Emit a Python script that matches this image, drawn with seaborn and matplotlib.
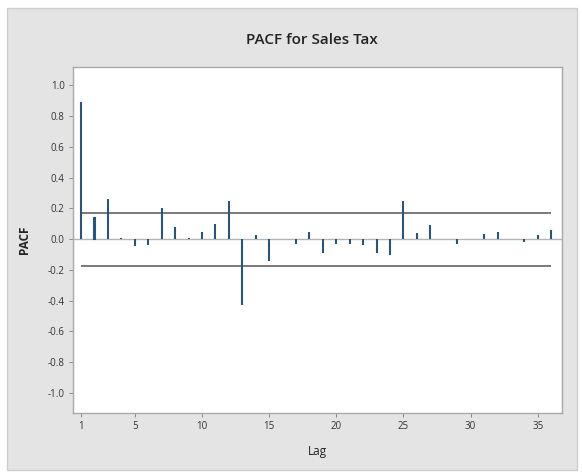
import numpy as np
import pandas as pd
import matplotlib
matplotlib.use("Agg")
import matplotlib.pyplot as plt
from matplotlib.patches import Rectangle
import seaborn as sns

# Partial autocorrelations of the sales tax series, lags 1-36
lags = list(range(1, 37))
pacf = [0.89, 0.14, 0.26, 0.005, -0.045, -0.035, 0.20, 0.08, 0.005, 0.05,
        0.10, 0.25, -0.43, 0.03, -0.14, 0.0, -0.03, 0.045, -0.09, -0.03,
        -0.03, -0.035, -0.09, -0.10, 0.25, 0.04, 0.09, 0.0, -0.03, 0.0,
        0.035, 0.05, 0.0, -0.015, 0.025, 0.06]
conf_limit = 0.172
x_ticks = [1, 5, 10, 15, 20, 25, 30, 35]
y_ticks = [1.0, 0.8, 0.6, 0.4, 0.2, 0.0, -0.2, -0.4, -0.6, -0.8, -1.0]

df = pd.DataFrame({"Lag": lags, "PACF": pacf})

sns.set_theme(style="white")
plt.rcParams["font.family"] = ["Open Sans", "DejaVu Sans"]

fig = plt.figure(figsize=(5.82, 4.75), dpi=100)
fig.patch.set_facecolor("white")

# grey graph panel behind the plot area
panel = Rectangle((7 / 582, 1 - 470 / 475), 570 / 582, 462 / 475,
                  transform=fig.transFigure, facecolor="#e4e4e4",
                  edgecolor="#cdcdcd", linewidth=1.0, zorder=-10)
fig.patches.append(panel)

ax = fig.add_axes([73 / 582, 1 - 413 / 475, 489 / 582, 346 / 475])
ax.set_facecolor("white")

# zero reference line across the full width
ax.axhline(0, color="#b5b5b5", linewidth=1.0, zorder=1)

# significance limits
ax.hlines([conf_limit, -conf_limit], 1, 36, color="#6f6f6f", linewidth=1.3, zorder=2)

# PACF spikes: near-zero-width bars whose outline gives an even stem
sns.barplot(data=df, x="Lag", y="PACF", native_scale=True, width=0.002,
            color="#2c5478", saturation=1, edgecolor="#2c5478", linewidth=1.5,
            ax=ax, zorder=3)

ax.set_xlim(0.4, 36.8)
ax.set_ylim(-1.13, 1.12)
ax.set_xticks(x_ticks)
ax.set_xticklabels([str(t) for t in x_ticks])
ax.set_yticks(y_ticks)
ax.set_yticklabels([f"{t:.1f}" for t in y_ticks])

for s in ax.spines.values():
    s.set_color("#a8a8a8")
    s.set_linewidth(1.0)

ax.tick_params(axis="both", which="major", length=3, width=0.7, color="#8a8a8a",
               labelsize=7, labelcolor="#333333", pad=3,
               bottom=True, left=True)

ax.set_xlabel("Lag", fontsize=8.5, color="#222222", labelpad=9)
ax.set_ylabel("PACF", fontsize=8.5, fontweight="bold", color="#222222", labelpad=12)
fig.text(312 / 582, 1 - 40 / 475, "PACF for Sales Tax", ha="center", va="center",
         fontsize=11, fontweight="semibold", color="#222222")

fig.savefig("out.png", dpi=100)
